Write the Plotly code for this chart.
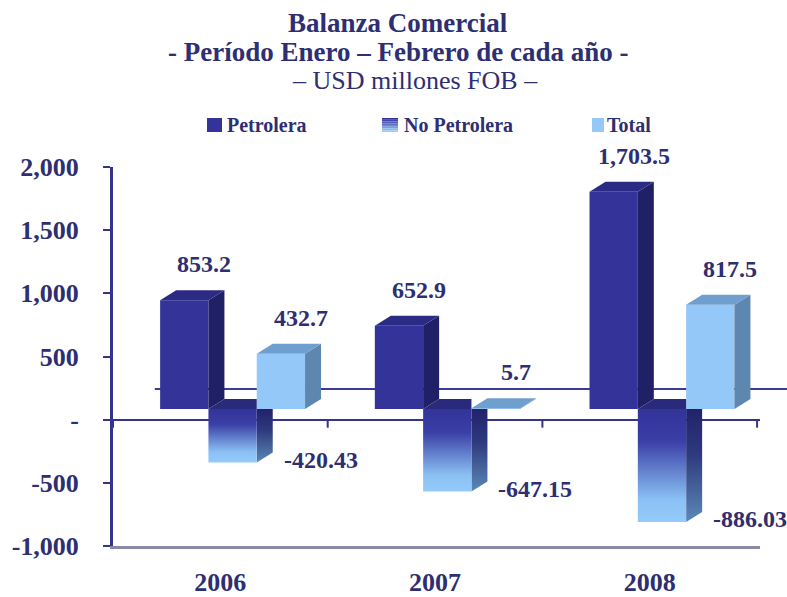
import plotly.graph_objects as go

# ---- data -------------------------------------------------------------
YEARS = ["2006", "2007", "2008"]
PETROLERA = [853.2, 652.9, 1703.5]
NO_PETROLERA = [-420.43, -647.15, -886.03]
TOTAL = [432.7, 5.7, 817.5]
SERIES_NAMES = ["Petrolera", "No Petrolera", "Total"]

Y_TICK_VALUES = [-1000, -500, 0, 500, 1000, 1500, 2000]
Y_TICK_LABELS = ["-1,000", "-500", "-", "500", "1,000", "1,500", "2,000"]

TITLE_LINES = [
    "Balanza Comercial",
    "- Período Enero – Febrero de cada año -",
    "– USD millones FOB –",
]

# ---- layout geometry (pixels) ----------------------------------------
W, H = 787, 597
L, R, T, B = 113, 760, 167, 546          # plot area edges
CAT = 214.7                               # px per category
X_RANGE = [-0.5, -0.5 + (R - L) / CAT]
Y_RANGE = [-1000, 2000]

# bars sit on a floor drawn slightly above the front zero line (3-D look)
BAR_SCALE = 0.1275                        # px per USD million on bar axis
BAR_ZERO = 409                            # px row of the bar floor
Y2_RANGE = [-(B - BAR_ZERO) / BAR_SCALE, (BAR_ZERO - T) / BAR_SCALE]
BAR_W = 0.225                             # bar width in category units
GROUP_SHIFT = 0.057                       # cluster offset to the right
DX = 16 / CAT                             # depth offset, x (category units)
DY = 10 / BAR_SCALE                       # depth offset, y (bar-axis units)

FONT = "Liberation Serif, Times New Roman, serif"
NAVY = "#2e2e72"
AXIS_NAVY = "#34348c"

FRONT = ["#333399", None, "#94c8f8"]
TOP = ["#2b2b86", "#2a2a7c", "#6f9fcf"]
SIDE = ["#202066", None, "#5d87ae"]
NEG_FRONT_SCALE = [[0, "#95cbfb"], [0.2, "#8ac0f3"], [0.72, "#3a3ea5"], [1, "#33339a"]]
NEG_SIDE_SCALE = [[0, "#5b89b6"], [0.6, "#2e3a7e"], [1, "#22226a"]]


def px_x(px):
    return (px - L) / (R - L)


def px_y(py):
    return (B - py) / (B - T)


def poly(fig, xs, ys, color=None, gradient=None):
    kw = dict(fill="toself", mode="none", yaxis="y2", showlegend=False,
              hoverinfo="skip")
    if gradient is not None:
        kw["fillgradient"] = dict(type="vertical", colorscale=gradient)
    else:
        kw["fillcolor"] = color
    fig.add_trace(go.Scatter(x=xs + [xs[0]], y=ys + [ys[0]], **kw))


fig = go.Figure()
series = [PETROLERA, NO_PETROLERA, TOTAL]
n = len(YEARS)

# front faces of the positive series as real bars
for s, vals in enumerate(series):
    if s == 1:
        continue
    centers = [i + GROUP_SHIFT + (s - 1) * BAR_W for i in range(n)]
    fig.add_trace(go.Bar(
        x=centers, y=vals, width=BAR_W, yaxis="y2", name=SERIES_NAMES[s],
        marker=dict(color=FRONT[s], line=dict(width=0)),
        showlegend=False, hoverinfo="skip",
    ))

# depth faces and the gradient-filled negative bars
for i in range(n):
    for s, vals in enumerate(series):
        v = vals[i]
        c = i + GROUP_SHIFT + (s - 1) * BAR_W
        x0, x1 = c - BAR_W / 2, c + BAR_W / 2
        if v >= 0:
            poly(fig, [x1, x1, x1 + DX, x1 + DX], [0, v, v + DY, DY], SIDE[s])
            poly(fig, [x0, x1, x1 + DX, x0 + DX], [v, v, v + DY, v + DY], TOP[s])
        else:
            poly(fig, [x1, x1, x1 + DX, x1 + DX], [0, v, v + DY, 0],
                 gradient=NEG_SIDE_SCALE)
            poly(fig, [x0, x1, x1, x0], [0, 0, v, v], gradient=NEG_FRONT_SCALE)
            poly(fig, [x0, x1, x1, x0 + DX], [0, 0, DY, DY], TOP[s])

# value labels
annotations = []
for s, vals in enumerate(series):
    for i, v in enumerate(vals):
        c = i + GROUP_SHIFT + (s - 1) * BAR_W
        if v >= 0:
            text, xs, ys = f"{v:,.1f}", 20, 36
        else:
            text, xs, ys = f"{v:,.2f}", 88, 3
        annotations.append(dict(
            x=c, y=v, xref="x", yref="y2", text=text, showarrow=False,
            xshift=xs, yshift=ys, xanchor="center", yanchor="middle",
            font=dict(family=FONT, size=24, color=NAVY, weight="bold"),
        ))

# title block
title_specs = [(398, 23, "bold", 27), (398, 52, "bold", 27), (415, 80, "normal", 26)]
for line, (cx, cy, wt, sz) in zip(TITLE_LINES, title_specs):
    annotations.append(dict(
        x=px_x(cx), y=px_y(cy), xref="paper", yref="paper", text=line,
        showarrow=False, xanchor="center", yanchor="middle",
        font=dict(family=FONT, size=sz, color=NAVY, weight=wt),
    ))

# legend
shapes = []
legend_items = [((207, 222), 225), ((382, 398), 402), ((592, 604), 605)]
for s, ((sx0, sx1), tx) in enumerate(legend_items):
    if s == 1:
        steps = 8
        for k in range(steps):
            t = k / (steps - 1)
            r = int(0x33 + (0x9a - 0x33) * t)
            g = int(0x33 + (0xcc - 0x33) * t)
            b = int(0x99 + (0xfb - 0x99) * t)
            ya = 118 + 14 * k / steps
            yb = 118 + 14 * (k + 1) / steps
            shapes.append(dict(type="rect", xref="paper", yref="paper",
                               x0=px_x(sx0), x1=px_x(sx1), y0=px_y(yb), y1=px_y(ya),
                               fillcolor=f"rgb({r},{g},{b})", line=dict(width=0)))
    else:
        shapes.append(dict(type="rect", xref="paper", yref="paper",
                           x0=px_x(sx0), x1=px_x(sx1), y0=px_y(132), y1=px_y(118),
                           fillcolor=FRONT[s], line=dict(width=0)))
    annotations.append(dict(
        x=px_x(tx), y=px_y(125), xref="paper", yref="paper", text=SERIES_NAMES[s],
        showarrow=False, xanchor="left", yanchor="middle",
        font=dict(family=FONT, size=20, color=NAVY, weight="bold"),
    ))

# back-wall zero line, running behind the bars out to the page edge
first_left = GROUP_SHIFT - 1.5 * BAR_W - DX / 3
wall_y = (2 * DY - Y2_RANGE[0]) / (Y2_RANGE[1] - Y2_RANGE[0])
shapes.append(dict(
    type="line", xref="paper", yref="paper", layer="below",
    x0=(first_left - X_RANGE[0]) / (X_RANGE[1] - X_RANGE[0]), x1=px_x(W),
    y0=wall_y, y1=wall_y,
    line=dict(color="#3a3a98", width=2),
))

# category separators hanging from the front zero line
tick_len = 8 * (Y_RANGE[1] - Y_RANGE[0]) / (B - T)
for k in range(n + 1):
    shapes.append(dict(type="line", xref="x", yref="y", x0=k - 0.5, x1=k - 0.5,
                       y0=0, y1=-tick_len, line=dict(color=AXIS_NAVY, width=2)))

fig.update_layout(
    width=W, height=H, autosize=False,
    margin=dict(l=L, r=W - R, t=T, b=H - B, pad=0),
    paper_bgcolor="white", plot_bgcolor="white",
    barmode="overlay", showlegend=False,
    annotations=annotations, shapes=shapes,
    xaxis=dict(
        range=X_RANGE, tickvals=list(range(n)), ticktext=YEARS,
        showgrid=False, zeroline=False, ticks="", automargin=False,
        showline=True, linecolor="#8a8aa6", linewidth=3,
        tickfont=dict(family=FONT, size=26, color=NAVY, weight="bold"),
        ticklabelstandoff=11,
    ),
    yaxis=dict(
        range=Y_RANGE, tickvals=Y_TICK_VALUES, ticktext=Y_TICK_LABELS,
        showgrid=False, zeroline=True, zerolinecolor=AXIS_NAVY, zerolinewidth=2,
        showline=True, linecolor=AXIS_NAVY, linewidth=3, automargin=False,
        ticks="outside", ticklen=7, tickwidth=2, tickcolor=AXIS_NAVY,
        tickfont=dict(family=FONT, size=26, color=NAVY, weight="bold"),
        ticklabelstandoff=19,
    ),
    yaxis2=dict(range=Y2_RANGE, overlaying="y", visible=False),
)

fig.write_html("out.html")
